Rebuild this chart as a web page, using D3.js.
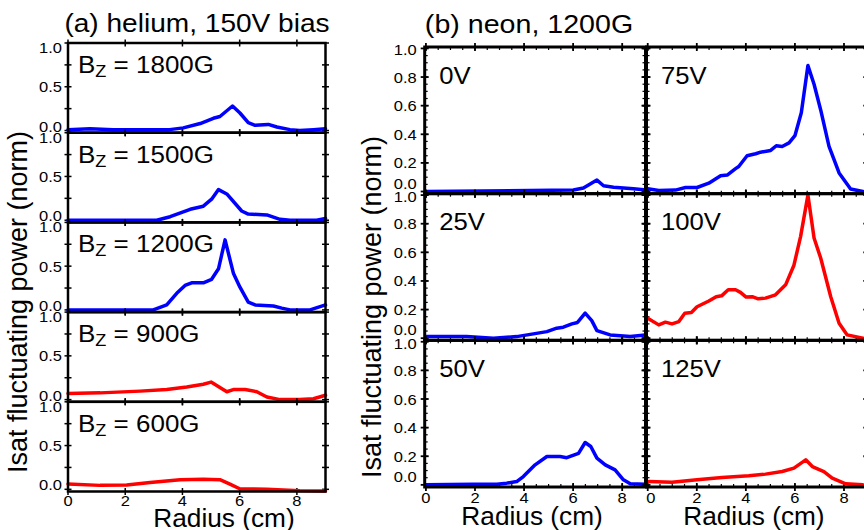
<!DOCTYPE html>
<html><head><meta charset="utf-8">
<script src="https://cdn.jsdelivr.net/npm/d3@7"></script>
<style>html,body{margin:0;padding:0;background:#fff}svg{display:block}</style>
</head><body>
<svg id="chart" width="864" height="530"></svg>
<script>
// ---------- data ----------
// (a) helium, 150V bias — radius (cm) and normalized fluctuating power
const radA1800 = [0,0.77,1.58,3.55,4.03,4.62,5.08,5.31,5.75,6.01,6.3,6.54,7.0,7.3,7.76,8.1,8.58,9.0];
const powA1800 = [0.01,0.02,0.01,0.01,0.03,0.08,0.14,0.16,0.28,0.2,0.09,0.06,0.07,0.04,0.01,0.0,0.01,0.02];
const radA1500 = [0,3.1,3.57,4.27,4.73,5.02,5.26,5.55,6.07,6.3,6.95,7.41,7.76,8.69,9.0];
const powA1500 = [0,0,0.04,0.125,0.16,0.24,0.35,0.3,0.105,0.07,0.06,0.01,0,0,0.02];
const radA1200 = [0,2.98,3.45,3.8,4.09,4.32,4.73,5.02,5.26,5.49,5.78,6.01,6.3,6.54,7.18,7.47,7.76,8.46,9.0];
const powA1200 = [0,0,0.057,0.19,0.28,0.31,0.31,0.35,0.47,0.8,0.42,0.26,0.09,0.057,0.045,0.02,0,0,0.057];
const radA900 = [0,1.12,2.52,3.45,4.15,4.73,5.0,5.55,5.78,6.19,6.6,6.95,7.41,8.1,8.58,9.0];
const powA900 = [0.07,0.077,0.097,0.115,0.145,0.176,0.2,0.09,0.115,0.115,0.09,0.03,0.0,0.0,0.01,0.05];
const radA600 = [0,1.12,2.05,2.87,3.92,4.73,5.31,5.66,6.0,6.95,8.1,9.0];
const powA600 = [0.06,0.045,0.05,0.077,0.11,0.115,0.11,0.06,0.006,0.0,-0.015,-0.02];

// (b) neon, 1200G — bias voltages
const radB0 = [0,6.01,6.42,6.97,7.24,7.65,8.46,8.98];
const powB0 = [0,0.01,0.024,0.08,0.04,0.03,0.02,0.01];
const radB25 = [0,1.66,2.75,3.7,4.38,4.93,5.33,5.6,5.95,6.18,6.49,6.76,6.97,7.51,8.33,8.94];
const powB25 = [0.011,0.011,0.0,0.011,0.03,0.046,0.07,0.077,0.1,0.11,0.175,0.123,0.053,0.023,0.011,0.023];
const radB50 = [0,1.93,2.89,3.29,3.7,3.97,4.45,4.93,5.47,5.74,6.22,6.49,6.72,6.97,7.31,7.71,8.05,8.33,8.94];
const powB50 = [0,0.005,0.005,0.012,0.023,0.058,0.14,0.198,0.198,0.19,0.22,0.296,0.268,0.187,0.14,0.105,0.035,0.007,0.005];
const radB75 = [0,0.45,1.13,1.54,2.01,2.49,2.97,3.24,3.58,3.71,4.05,4.4,4.6,5.01,5.24,5.48,5.76,6.0,6.26,6.53,6.78,7.05,7.39,7.8,8.27,8.77];
const powB75 = [0.02,0.007,0.01,0.028,0.028,0.058,0.11,0.115,0.16,0.175,0.25,0.264,0.275,0.287,0.32,0.315,0.34,0.39,0.55,0.88,0.75,0.57,0.315,0.13,0.017,0.0];
const radB100 = [0,0.45,0.72,0.99,1.27,1.51,1.78,2.01,2.49,2.79,3.01,3.28,3.58,3.78,4.01,4.26,4.5,4.8,5.21,5.62,5.96,6.23,6.53,6.78,7.05,7.46,7.8,8.13,8.77];
const powB100 = [0.14,0.093,0.112,0.1,0.116,0.175,0.179,0.22,0.26,0.29,0.296,0.338,0.338,0.32,0.287,0.29,0.275,0.28,0.303,0.373,0.51,0.71,1.0,0.7,0.56,0.29,0.105,0.023,0.0];
const radB125 = [0.04,0.99,2.01,3.03,4.12,4.8,5.48,5.96,6.44,6.71,7.18,7.52,8.07,8.77];
const powB125 = [0.023,0.019,0.035,0.051,0.063,0.075,0.093,0.117,0.175,0.128,0.093,0.047,0.007,0.0];

// labels
const titleA = "(a) helium, 150V bias";
const titleB = "(b) neon, 1200G";
const fieldsA = ["1800G","1500G","1200G","900G","600G"];
const biasB = ["0V","75V","25V","100V","50V","125V"];
const yTitle = "Isat fluctuating power (norm)";
const xTitle = "Radius (cm)";
const xTicks = [0,2,4,6,8];
const yTicksA = [0,0.5,1];
const yTicksB = [0,0.2,0.4,0.6,0.8,1];

// ---------- drawing ----------
const svg = d3.select("#chart");
const BLUE = "#0000ff", RED = "#ff0000";
const FONT = "'Liberation Sans', Arial, Helvetica, sans-serif";
const SX = 1.1; // horizontal text stretch

function txt(g, x, y, s, size, anchor, sx) {
  return g.append("text")
    .attr("transform", `translate(${x},${y}) scale(${sx||SX},1)`)
    .style("font-family", FONT).attr("font-size", size)
    .attr("text-anchor", anchor || "start").attr("fill", "#000").text(s);
}

function lineOf(xs, ys, rad, pow) {
  const pts = rad.map((r, i) => [r, pow[i]]);
  return d3.line().x(d => xs(d[0])).y(d => ys(d[1]))(pts);
}

// ----- panel (a) -----
const A = {x0: 68, x1: 325.5, y0: 43, y1: 491.5};
const seriesA = [[radA1800,powA1800,BLUE],[radA1500,powA1500,BLUE],[radA1200,powA1200,BLUE],[radA900,powA900,RED],[radA600,powA600,RED]];
const hA = (A.y1 - A.y0) / 5;
const xA = d3.scaleLinear().domain([0, 9]).range([A.x0, A.x1]);
const gA = svg.append("g");
seriesA.forEach((s, i) => {
  const top = A.y0 + i * hA, bot = top + hA;
  const yA = d3.scaleLinear().domain([-0.025, 1]).range([bot, top]);
  const g = gA.append("g");
  d3.range(0, 1.001, 0.25).forEach(v => {
    [A.x0, A.x1].forEach(xx => g.append("line").attr("x1", xx - 3.5).attr("x2", xx + 3.5)
      .attr("y1", yA(v)).attr("y2", yA(v)).attr("stroke", "#000").attr("stroke-width", 1.5));
  });
  xTicks.forEach(v => {
    [top, bot].forEach(yy => g.append("line").attr("x1", xA(v)).attr("x2", xA(v))
      .attr("y1", yy - 3.5).attr("y2", yy + 3.5).attr("stroke", "#000").attr("stroke-width", 1.5));
  });
  yTicksA.forEach(v => {
    const off = v === 1 ? 10 : (v === 0 ? 1 : 5.5);
    txt(g, A.x0 - 6, yA(v) + off, v.toFixed(1), 15, "end", 1.1);
  });
  g.append("path").attr("d", lineOf(xA, yA, s[0], s[1]))
    .attr("fill", "none").attr("stroke", s[2]).attr("stroke-width", 3.5)
    .attr("stroke-linejoin", "round").attr("stroke-linecap", "round");
  g.append("rect").attr("x", A.x0).attr("y", top).attr("width", A.x1 - A.x0).attr("height", hA)
    .attr("fill", "none").attr("stroke", "#000").attr("stroke-width", 2.5);
  const t = g.append("text").attr("transform", `translate(78,${top + 30}) scale(1.13,1)`)
    .style("font-family", FONT).attr("font-size", 23).attr("fill", "#000");
  t.append("tspan").text("B");
  t.append("tspan").attr("font-size", 16).attr("dy", 4).text("Z");
  t.append("tspan").attr("dy", -4).text(" = " + fieldsA[i]);
});
xTicks.forEach(v => txt(gA, xA(v), 506, String(v), 15, "middle", 1.1));
txt(gA, 224, 527, xTitle, 25, "middle", 1.05);
txt(svg, 197, 32, titleA, 26, "middle", 1.08);
svg.append("text").attr("transform", "translate(27,302) rotate(-90)")
  .style("font-family", FONT).attr("font-size", 27).attr("text-anchor", "middle").text(yTitle);

// ----- panel (b) -----
const B = {cols: [424.7, 646.5], cw: 220.8, y0: 47, y1: 487};
const hB = (B.y1 - B.y0) / 3;
const seriesB = [[radB0,powB0,BLUE],[radB75,powB75,BLUE],[radB25,powB25,BLUE],[radB100,powB100,RED],[radB50,powB50,BLUE],[radB125,powB125,RED]];
const gB = svg.append("g");
seriesB.forEach((s, k) => {
  const row = Math.floor(k / 2), col = k % 2;
  const left = B.cols[col], right = left + B.cw;
  const top = B.y0 + row * hB, bot = top + hB;
  const xB = d3.scaleLinear().domain([-0.05, 8.95]).range([left, right]);
  const yB = d3.scaleLinear().domain([-0.015, 1.01]).range([bot, top]);
  const g = gB.append("g");
  d3.range(0, 1.001, 0.05).forEach(v => {
    [[left, 1], [right, -1]].forEach(([xx, d]) => g.append("line").attr("x1", xx).attr("x2", xx + d * 3)
      .attr("y1", yB(v)).attr("y2", yB(v)).attr("stroke", "#000").attr("stroke-width", 1.2));
  });
  d3.range(0, 9.01, 0.5).forEach(v => {
    [[top, 1], [bot, -1]].forEach(([yy, d]) => g.append("line").attr("x1", xB(v)).attr("x2", xB(v))
      .attr("y1", yy).attr("y2", yy + d * 3).attr("stroke", "#000").attr("stroke-width", 1.2));
  });
  yTicksB.forEach(v => {
    [left, right].forEach(xx => g.append("line").attr("x1", xx - 4).attr("x2", xx + 4)
      .attr("y1", yB(v)).attr("y2", yB(v)).attr("stroke", "#000").attr("stroke-width", 1.8));
  });
  xTicks.forEach(v => {
    [top, bot].forEach(yy => g.append("line").attr("x1", xB(v)).attr("x2", xB(v))
      .attr("y1", yy - 4).attr("y2", yy + 4).attr("stroke", "#000").attr("stroke-width", 1.8));
  });
  if (col === 0) {
    yTicksB.forEach(v => {
      const off = v === 1 ? 7 : (v === 0 ? -3 : 5.5);
      txt(g, left - 8, yB(v) + off, v.toFixed(1), 15, "end", 1.1);
    });
  }
  g.append("path").attr("d", lineOf(xB, yB, s[0], s[1]))
    .attr("fill", "none").attr("stroke", s[2]).attr("stroke-width", 3.5)
    .attr("stroke-linejoin", "round").attr("stroke-linecap", "round");
  g.append("rect").attr("x", left).attr("y", top).attr("width", B.cw).attr("height", hB)
    .attr("fill", "none").attr("stroke", "#000").attr("stroke-width", 3);
  txt(g, left + 14.5, top + 36.5, biasB[k], 24, "start", 1.07);
  if (row === 2) {
    xTicks.forEach(v => txt(g, xB(v) + (v === 0 && col === 1 ? 3 : 0), 503, String(v), 15, "middle", 1.1));
    txt(g, (left + right) / 2 - 3, 525, xTitle, 25, "middle", 1.05);
  }
});
txt(svg, 529, 33, titleB, 26, "middle", 1.1);
svg.append("text").attr("transform", "translate(381,307) rotate(-90)")
  .style("font-family", FONT).attr("font-size", 27).attr("text-anchor", "middle").text(yTitle);
</script>
</body></html>
